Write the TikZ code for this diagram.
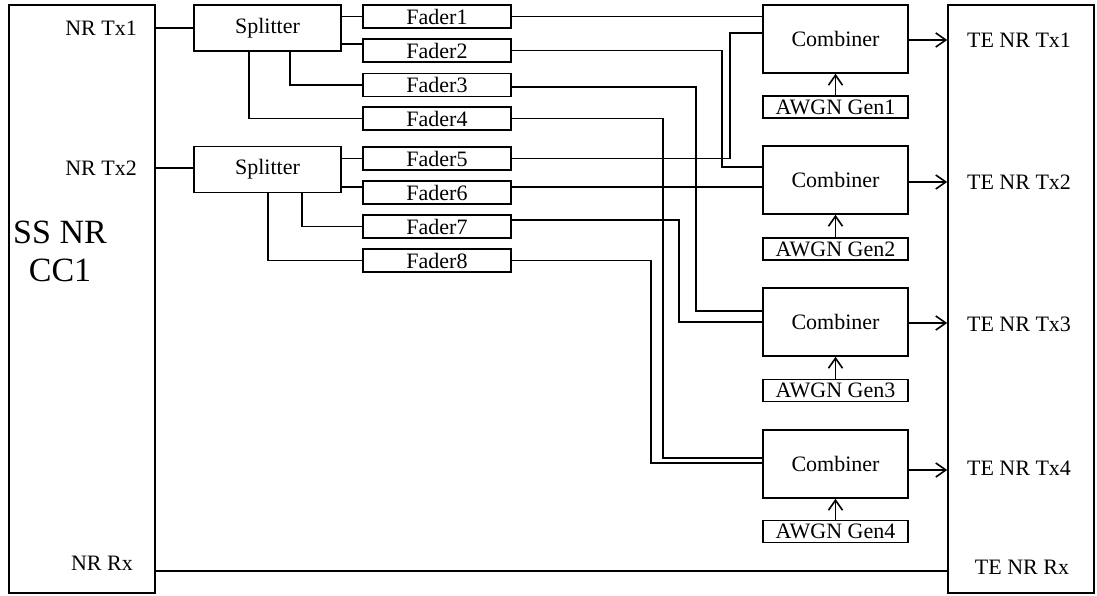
\documentclass[tikz,border=0pt]{standalone}
\usepackage{fontspec}
\setmainfont{Liberation Serif}
\usetikzlibrary{arrows.meta}
\begin{document}
\begin{tikzpicture}[x=1pt,y=-1pt,
  every node/.style={font=\fontsize{22}{26}\selectfont},
  blk/.style={draw, line width=1.6pt, inner sep=0pt},
  big/.style={blk, minimum width=146pt, minimum height=588pt},
  splitbox/.style={blk, minimum width=147pt, minimum height=46pt},
  faderbox/.style={blk, minimum width=148pt, minimum height=23pt},
  combbox/.style={blk, minimum width=145pt, minimum height=68pt},
  awgnbox/.style={blk, minimum width=145pt, minimum height=22pt},
  lbl/.style={inner sep=0pt},
  wire/.style={line width=1.6pt},
  arr/.style={line width=1.6pt, -{Straight Barb[length=10pt,width=14pt,line width=1.6pt]}}
]
\useasboundingbox (0,0) rectangle (1097,596);

% big boxes
\node[big] (L) at (82,299) {};
\node[big] (R) at (1021,299) {};

% left labels
\node[lbl, anchor=east] (ltx1) at (137,28) {NR Tx1};
\node[lbl, anchor=east] (ltx2) at (137,168) {NR Tx2};
\node[lbl, anchor=east] (lrx) at (133,563) {NR Rx};
\node[lbl, align=center, font=\fontsize{34}{38}\selectfont] (ss) at (60,251) {SS NR\\CC1};

% right labels
\node[lbl] (rtx1) at (1019,40) {TE NR Tx1};
\node[lbl] (rtx2) at (1019,182) {TE NR Tx2};
\node[lbl] (rtx3) at (1019,324) {TE NR Tx3};
\node[lbl] (rtx4) at (1019,468) {TE NR Tx4};
\node[lbl] (rrx) at (1022,567) {TE NR Rx};

% splitters
\node[splitbox] (S1) at (267.5,28) {Splitter};
\node[splitbox] (S2) at (267.5,169.5) {Splitter};

% faders
\node[faderbox] (F1) at (437,16.5) {Fader1};
\node[faderbox] (F2) at (437,50.5) {Fader2};
\node[faderbox] (F3) at (437,85) {Fader3};
\node[faderbox] (F4) at (437,118.5) {Fader4};
\node[faderbox] (F5) at (437,158.5) {Fader5};
\node[faderbox] (F6) at (437,192.5) {Fader6};
\node[faderbox] (F7) at (437,226.5) {Fader7};
\node[faderbox] (F8) at (437,260.5) {Fader8};

% combiners and AWGN
\node[combbox] (C1) at (835.5,39) {Combiner};
\node[combbox] (C2) at (835.5,180) {Combiner};
\node[combbox] (C3) at (835.5,322) {Combiner};
\node[combbox] (C4) at (835.5,464) {Combiner};
\node[awgnbox] (A1) at (835.5,107) {AWGN Gen1};
\node[awgnbox] (A2) at (835.5,249) {AWGN Gen2};
\node[awgnbox] (A3) at (835.5,390.5) {AWGN Gen3};
\node[awgnbox] (A4) at (835.5,531.5) {AWGN Gen4};

% inputs to splitters
\draw[wire] (S1.west -| L.east) -- (S1.west);
\draw[wire] ([yshift=1.5pt]S2.west -| L.east) -- ([yshift=1.5pt]S2.west);

% splitter 1 to faders
\draw[wire] (F1.west -| S1.east) -- (F1.west);
\draw[wire] ([yshift=6.5pt]F2.west -| S1.east) -- ([yshift=6.5pt]F2.west);
\draw[wire] ([xshift=22.5pt]S1.south) |- (F3.west);
\draw[wire] ([xshift=-18.5pt]S1.south) |- (F4.west);

% splitter 2 to faders
\draw[wire] (F5.west -| S2.east) -- (F5.west);
\draw[wire] ([yshift=5.5pt]F6.west -| S2.east) -- ([yshift=5.5pt]F6.west);
\draw[wire] ([xshift=34.5pt]S2.south) |- (F7.west);
\draw[wire] ([xshift=0.5pt]S2.south) |- (F8.west);

% faders to combiners
\draw[wire] (F1.east) -- (F1.east -| C1.west);
\draw[wire] (F5.east) -- ++(218,0) |- ([yshift=6pt]C1.west);
\draw[wire] (F2.east) -- ++(210,0) |- ([yshift=13pt]C2.west);
\draw[wire] ([yshift=5.5pt]F6.east) -- ([yshift=5.5pt]F6.east -| C2.west);
\draw[wire] ([yshift=-2pt]F3.east) -- ++(184,0) |- ([yshift=11pt]C3.west);
\draw[wire] ([yshift=6.5pt]F7.east) -- ++(167,0) |- (C3.west);
\draw[wire] (F4.east) -- ++(151,0) |- ([yshift=6pt]C4.west);
\draw[wire] (F8.east) -- ++(139,0) |- ([yshift=1pt]C4.west);

% AWGN to combiners
\draw[arr] (A1.north) -- (C1.south);
\draw[arr] (A2.north) -- (C2.south);
\draw[arr] (A3.north) -- (C3.south);
\draw[arr] (A4.north) -- (C4.south);

% combiners to TE
\draw[arr] ([yshift=-1pt]C1.east) -- ([yshift=-1pt]C1.east -| R.west);
\draw[arr] ([yshift=-2pt]C2.east) -- ([yshift=-2pt]C2.east -| R.west);
\draw[arr] ([yshift=-1pt]C3.east) -- ([yshift=-1pt]C3.east -| R.west);
\draw[arr] ([yshift=-6pt]C4.east) -- ([yshift=-6pt]C4.east -| R.west);

% Rx line
\coordinate (rxl) at (155,571);
\draw[wire] (rxl -| L.east) -- (rxl -| R.west);
\end{tikzpicture}
\end{document}
